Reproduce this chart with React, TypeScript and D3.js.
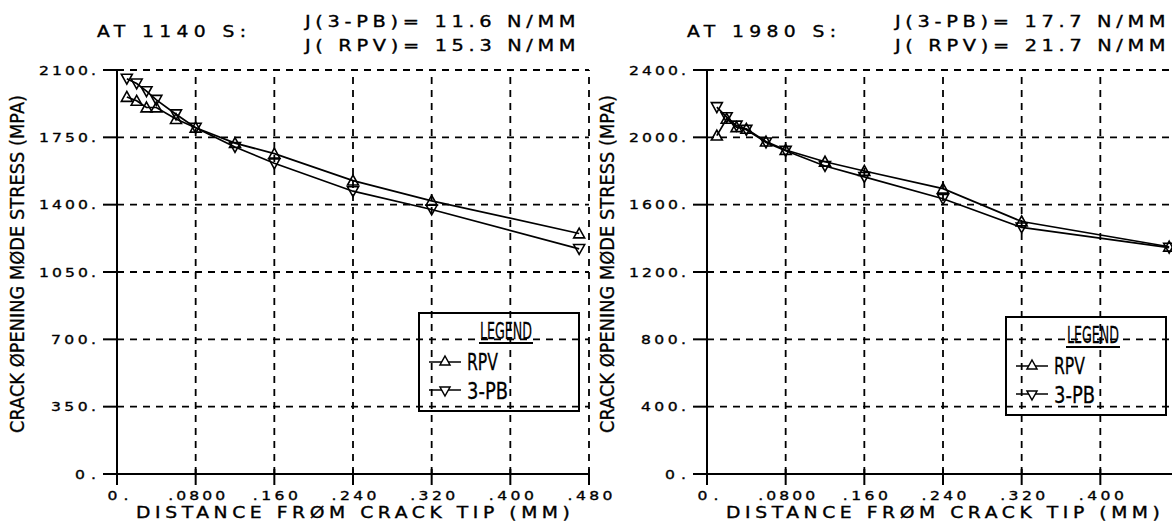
import * as d3 from "d3";
import React from "react";

// distances from crack tip (mm)
const distances = [0.01, 0.02, 0.03, 0.04, 0.06, 0.08, 0.12, 0.16, 0.24, 0.32, 0.47];

// 1140 s panel
const rpv1140 = [1960, 1940, 1905, 1905, 1845, 1800, 1720, 1665, 1525, 1420, 1250];
const pb1140 = [2055, 2030, 1990, 1945, 1870, 1800, 1700, 1615, 1470, 1375, 1170];
const yTicks1140 = [0, 350, 700, 1050, 1400, 1750, 2100];

// 1980 s panel
const rpv1980 = [2010, 2110, 2060, 2050, 1975, 1925, 1855, 1800, 1695, 1500, 1350];
const pb1980 = [2180, 2120, 2070, 2045, 1970, 1920, 1830, 1765, 1635, 1465, 1345];
const yTicks1980 = [0, 400, 800, 1200, 1600, 2000, 2400];

const xTicks = [0, 0.08, 0.16, 0.24, 0.32, 0.4, 0.48];
const xTickLabels = ["0.", ".0800", ".160", ".240", ".320", ".400", ".480"];

const plotFont = "'DejaVu Sans', sans-serif";
const narrowFont = "'DejaVu Sans', sans-serif";

const triUp = (x: number, y: number, s = 5.5) =>
  `M${x},${y - s}L${x + s},${y + s * 0.8}L${x - s},${y + s * 0.8}Z`;
const triDown = (x: number, y: number, s = 5.5) =>
  `M${x},${y + s}L${x + s},${y - s * 0.8}L${x - s},${y - s * 0.8}Z`;

// plotter-style text: wide glyphs, fixed advance per character
const PText = ({ x, y, text, adv, size, anchor = "start", dy }: {
  x: number; y: number; text: string; adv: number; size: number; anchor?: string; dy?: string;
}) => {
  const sx = 1.25;
  return (
    <text transform={`translate(${x},${y}) scale(${sx},1)`} dy={dy} textAnchor={anchor}
      fontFamily={plotFont} fontSize={size} stroke="#000" strokeWidth={0.35}
      textLength={(text.length * adv - 3) / sx} lengthAdjust="spacing" style={{ whiteSpace: "pre" }}>
      {text}
    </text>
  );
};

type PanelProps = {
  left: number;
  time: string;
  jPB: string;
  jRPV: string;
  rpv: number[];
  pb: number[];
  yTicks: number[];
  showLastX: boolean;
  legendX: number;
  legendY: number;
};

const Panel = ({ left, time, jPB, jRPV, rpv, pb, yTicks, showLastX, legendX, legendY }: PanelProps) => {
  const top = 70;
  const bottom = 474;
  const x = d3.scaleLinear().domain([0, 0.48]).range([left, left + 472]);
  const y = d3.scaleLinear().domain([0, yTicks[yTicks.length - 1]]).range([bottom, top]);
  const line = d3.line<number>().x((_, i) => x(distances[i])).y((d) => y(d));
  const dash = "7,6";
  const rightEdge = x(0.48);

  return (
    <g>
      {/* titles */}
      <PText x={left - 20} y={37} text={time} adv={15.2} size={15} />
      <PText x={left + 188} y={27} text={jPB} adv={15.2} size={15.5} />
      <PText x={left + 188} y={51} text={jRPV} adv={15.2} size={15.5} />

      {/* grid */}
      {yTicks.slice(1).map((t) => (
        <line key={"gy" + t} x1={x(0)} x2={rightEdge} y1={y(t)} y2={y(t)}
          stroke="#000" strokeWidth={1.8} strokeDasharray={dash} />
      ))}
      {xTicks.slice(1).map((t) => (
        <line key={"gx" + t} x1={x(t)} x2={x(t)} y1={y(0)} y2={top}
          stroke="#000" strokeWidth={1.8} strokeDasharray={dash} />
      ))}

      {/* axes */}
      <line x1={x(0)} x2={x(0)} y1={y(0) + 10} y2={top} stroke="#000" strokeWidth={2} />
      <line x1={x(0) - 14} x2={rightEdge} y1={y(0)} y2={y(0)} stroke="#000" strokeWidth={2} />
      {yTicks.map((t) => (
        <g key={"ty" + t}>
          <line x1={x(0) - 14} x2={x(0)} y1={y(t)} y2={y(t)} stroke="#000" strokeWidth={2} />
          <PText x={x(0) - 21} y={y(t)} dy="0.36em" anchor="end" text={t + "."} adv={12} size={12.5} />
        </g>
      ))}
      {xTicks.map((t, i) => (
        <g key={"tx" + t}>
          <line x1={x(t)} x2={x(t)} y1={y(0) - 5} y2={y(0) + 11} stroke="#000" strokeWidth={2} />
          {(showLastX || i < xTicks.length - 1) && (
            <PText x={x(t) + 1} y={y(0) + 26} anchor="middle" text={xTickLabels[i]} adv={12} size={12.5} />
          )}
        </g>
      ))}

      {/* axis titles */}
      <PText x={left + 236} y={y(0) + 44} anchor="middle" text="DISTANCE FRØM CRACK TIP (MM)"
        adv={15.6} size={15} />
      <text transform={`translate(${left - 93},264) rotate(-90)`} textAnchor="middle"
        fontFamily={narrowFont} fontSize={20} stroke="#000" strokeWidth={0.3}
        textLength={338} lengthAdjust="spacingAndGlyphs">
        CRACK ØPENING MØDE STRESS (MPA)
      </text>

      {/* series */}
      <path d={line(rpv) ?? ""} fill="none" stroke="#000" strokeWidth={1.7} />
      <path d={line(pb) ?? ""} fill="none" stroke="#000" strokeWidth={1.7} />
      {rpv.map((v, i) => (
        <path key={"r" + i} d={triUp(x(distances[i]), y(v))} fill="none" stroke="#000" strokeWidth={1.6} />
      ))}
      {pb.map((v, i) => (
        <path key={"p" + i} d={triDown(x(distances[i]), y(v))} fill="none" stroke="#000" strokeWidth={1.6} />
      ))}

      {/* legend */}
      <g transform={`translate(${legendX},${legendY})`}>
        <rect x={0} y={0} width={160} height={98} fill="none" stroke="#000" strokeWidth={2} />
        <text x={87} y={26} textAnchor="middle" fontFamily={narrowFont} fontSize={23}
          stroke="#000" strokeWidth={0.3} textLength={52} lengthAdjust="spacingAndGlyphs">
          LEGEND
        </text>
        <line x1={60} x2={114} y1={30} y2={30} stroke="#000" strokeWidth={2} />
        <line x1={10} x2={42} y1={49} y2={49} stroke="#000" strokeWidth={1.5} />
        <path d={triUp(26, 48, 5)} fill="#fff" stroke="#000" strokeWidth={1.5} />
        <text x={48} y={57} fontFamily={narrowFont} fontSize={23} stroke="#000" strokeWidth={0.3}
          textLength={31} lengthAdjust="spacingAndGlyphs">
          RPV
        </text>
        <line x1={10} x2={42} y1={77} y2={77} stroke="#000" strokeWidth={1.5} />
        <path d={triDown(26, 78, 5)} fill="#fff" stroke="#000" strokeWidth={1.5} />
        <text x={48} y={86} fontFamily={narrowFont} fontSize={23} stroke="#000" strokeWidth={0.3}
          textLength={41} lengthAdjust="spacingAndGlyphs">
          3-PB
        </text>
      </g>
    </g>
  );
};

const App = () => (
  <svg width={1172} height={523} style={{ position: "absolute", left: 0, top: 0, background: "#fff" }}>
    <rect width={1172} height={523} fill="#fff" />
    <Panel left={117} time="AT 1140 S:" jPB="J(3-PB)= 11.6 N/MM" jRPV="J( RPV)= 15.3 N/MM"
      rpv={rpv1140} pb={pb1140} yTicks={yTicks1140} showLastX={true} legendX={419} legendY={313} />
    <Panel left={707} time="AT 1980 S:" jPB="J(3-PB)= 17.7 N/MM" jRPV="J( RPV)= 21.7 N/MM"
      rpv={rpv1980} pb={pb1980} yTicks={yTicks1980} showLastX={false} legendX={1006} legendY={317} />
  </svg>
);

export default App;
